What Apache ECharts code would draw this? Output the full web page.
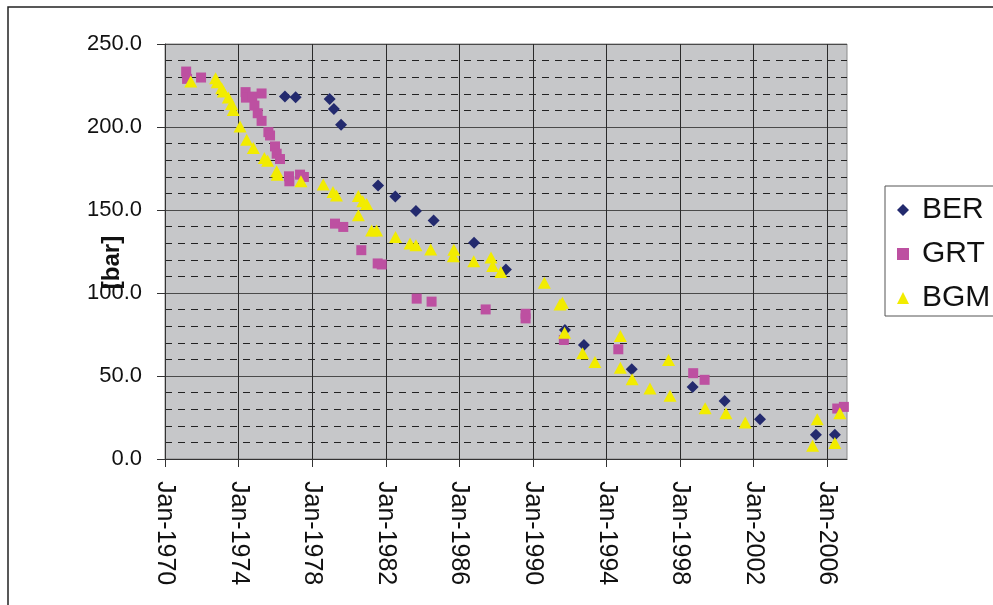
<!DOCTYPE html>
<html>
<head>
<meta charset="utf-8">
<title>Pressure decline</title>
<script src="https://cdn.jsdelivr.net/npm/echarts@6/dist/echarts.min.js"></script>
<style>
  html, body { margin: 0; padding: 0; background: #fff; }
  #chart { width: 993px; height: 605px; }
</style>
</head>
<body>
<div id="chart"></div>
<script>
// dates as decimal years, pressure in bar
const berYears = [1976.52, 1977.10, 1978.95, 1979.18, 1979.57, 1981.58, 1982.52, 1983.64, 1984.60, 1986.80,
  1988.53, 1991.74, 1992.77, 1995.37, 1998.68, 2000.42, 2002.34, 2005.38, 2006.41];
const berValues = [218.3, 217.9, 216.8, 210.9, 201.3, 164.7, 158.1, 149.4, 143.6, 130.2,
  114.2, 77.7, 68.7, 54.1, 43.3, 34.9, 24.0, 14.6, 14.6];

const grtYears = [1971.15, 1971.20, 1971.96, 1974.38, 1974.40, 1974.74, 1975.25, 1974.86, 1975.04, 1975.25,
  1975.62, 1975.71, 1975.98, 1976.07, 1976.25, 1976.74, 1976.76, 1977.34, 1977.55, 1979.24,
  1979.69, 1980.67, 1981.56, 1981.78, 1983.68, 1984.49, 1987.43, 1989.60, 1989.60, 1991.68,
  1994.64, 1998.71, 1999.33, 2006.54, 2006.90];
const grtValues = [233.4, 229.0, 229.8, 221.0, 217.7, 218.3, 220.2, 212.9, 208.3, 203.7,
  196.9, 194.9, 188.3, 183.9, 180.7, 170.3, 167.3, 171.3, 169.9, 141.8,
  139.8, 125.8, 117.8, 117.2, 96.6, 94.8, 90.1, 87.5, 84.7, 71.7,
  66.1, 51.7, 47.7, 30.4, 31.4];

const bgmYears = [1971.40, 1972.75, 1972.84, 1973.08, 1973.17, 1973.44, 1973.62, 1973.71, 1974.08, 1974.44,
  1974.80, 1975.40, 1975.58, 1976.07, 1976.10, 1977.39, 1978.60, 1979.13, 1979.32, 1980.51,
  1980.75, 1980.96, 1980.51, 1981.23, 1981.50, 1982.53, 1983.32, 1983.64, 1984.44, 1985.70,
  1985.67, 1986.78, 1987.72, 1987.81, 1988.25, 1990.62, 1991.47, 1991.60, 1991.72, 1992.70,
  1993.37, 1994.75, 1994.75, 1995.39, 1996.36, 1997.37, 1997.45, 1999.36, 2000.49, 2001.54,
  2005.20, 2005.45, 2006.41, 2006.68];
const bgmValues = [227.4, 229.4, 227.0, 223.4, 221.4, 217.7, 213.8, 210.3, 200.3, 192.3,
  187.3, 181.3, 179.7, 173.3, 171.3, 167.3, 165.3, 160.8, 158.7, 158.4,
  155.2, 153.6, 146.8, 137.6, 137.6, 133.8, 129.8, 128.8, 126.2, 126.0,
  122.2, 119.2, 121.4, 116.2, 112.7, 106.2, 93.1, 94.2, 76.1, 63.7,
  58.5, 74.1, 54.9, 48.1, 42.5, 59.7, 38.1, 30.6, 27.6, 22.0,
  8.0, 24.0, 9.6, 27.6];

const xTicks = [1970, 1974, 1978, 1982, 1986, 1990, 1994, 1998, 2002, 2006];
const yTicks = [0, 50, 100, 150, 200, 250];

const pairs = (xs, ys) => xs.map((x, i) => [x, ys[i]]);

let myChart = echarts.init(document.getElementById('chart'));
let option = {
  animation: false,
  textStyle: { fontFamily: 'Liberation Sans, Arial, sans-serif' },
  graphic: [{
    // outer chart frame
    type: 'rect',
    silent: true,
    shape: { x: 8, y: 7, width: 1200, height: 800 },
    style: { fill: null, stroke: '#222', lineWidth: 1.5 }
  }, {
    // legend frame, runs off the right edge like the original
    type: 'rect',
    silent: true,
    shape: { x: 885, y: 186, width: 200, height: 130 },
    style: { fill: null, stroke: '#555', lineWidth: 1 }
  }],
  grid: {
    left: 165,
    right: 146,
    top: 44,
    bottom: 146,
    show: true,
    backgroundColor: '#C6C7C9',
    borderColor: '#8a8a8a',
    borderWidth: 1
  },
  legend: {
    orient: 'vertical',
    left: 885,
    top: 186,
    itemWidth: 12,
    itemHeight: 12,
    itemGap: 14,
    padding: [9, 10, 5, 12],
    data: [
      { name: 'BER', icon: 'diamond' },
      { name: 'GRT', icon: 'rect' },
      { name: 'BGM', icon: 'triangle' }
    ],
    textStyle: { fontSize: 30, color: '#111', padding: [0, 0, 0, 8] }
  },
  xAxis: {
    type: 'value',
    min: 1970,
    max: 2007.07,
    axisLine: { lineStyle: { color: '#333' } },
    axisTick: { customValues: xTicks, length: 8, lineStyle: { color: '#333' } },
    axisLabel: {
      customValues: xTicks,
      rotate: -90,
      margin: 22,
      fontSize: 25,
      color: '#111',
      formatter: v => 'Jan-' + v
    },
    splitLine: { show: true, lineStyle: { color: '#2a2a2a', width: 1 } }
  },
  yAxis: {
    type: 'value',
    min: yTicks[0],
    max: yTicks[yTicks.length - 1],
    interval: 50,
    name: '[bar]',
    nameLocation: 'middle',
    nameRotate: 90,
    nameGap: 41,
    nameMoveOverlap: false,
    nameTextStyle: { fontSize: 24, fontWeight: 'bold', color: '#111', padding: [0, 22, 0, 0] },
    axisLine: { show: true, lineStyle: { color: '#333' } },
    axisTick: { show: true, length: 8, lineStyle: { color: '#333' } },
    axisLabel: {
      margin: 23,
      fontSize: 22,
      color: '#111',
      formatter: v => v.toFixed(1)
    },
    splitLine: { show: true, lineStyle: { color: '#4a4a4a', width: 1 } },
    minorTick: { show: false, splitNumber: 5 },
    minorSplitLine: { show: true, lineStyle: { color: '#222', type: [7, 6], width: 1 } }
  },
  series: [{
    name: 'BER',
    type: 'scatter',
    symbol: 'diamond',
    symbolSize: 12,
    itemStyle: { color: '#232A6E', opacity: 1 },
    data: pairs(berYears, berValues)
  }, {
    name: 'GRT',
    type: 'scatter',
    symbol: 'rect',
    symbolSize: 10,
    itemStyle: { color: '#BD50A1', opacity: 1 },
    data: pairs(grtYears, grtValues)
  }, {
    name: 'BGM',
    type: 'scatter',
    symbol: 'triangle',
    symbolSize: [13, 12],
    itemStyle: { color: '#F2EC00', opacity: 1 },
    data: pairs(bgmYears, bgmValues)
  }]
};
myChart.setOption(option);

window.addEventListener('resize', () => {
  myChart.resize();
});
</script>
</body>
</html>
